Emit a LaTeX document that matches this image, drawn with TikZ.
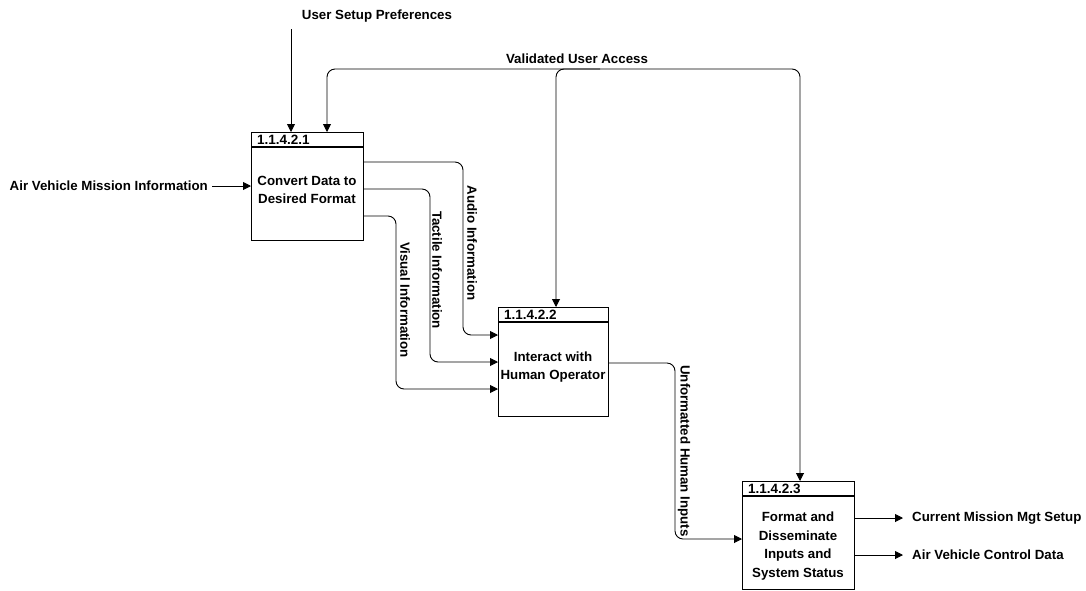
\documentclass[tikz,border=0pt]{standalone}
\usepackage{fontspec}
\setmainfont{Liberation Sans}
\usetikzlibrary{arrows.meta}
\tikzset{
  proc/.style={draw, line width=1.1pt, anchor=north west, inner sep=0pt},
  hdr/.style={line width=1.1pt},
  num/.style={anchor=west, inner sep=0pt, font=\fontsize{13.5}{15}\selectfont\bfseries},
  txt/.style={align=center, inner sep=0pt, font=\fontsize{13.3}{18.5}\selectfont\bfseries},
  lbl/.style={inner sep=0pt, font=\fontsize{13.3}{15}\selectfont\bfseries},
  flow/.style={line width=0.9pt, rounded corners=8pt, -{Triangle[length=8pt,width=8pt]}},
}
\begin{document}
\begin{tikzpicture}[x=1pt,y=-1pt]
\useasboundingbox (0,0) rectangle (1086,590);
\fill[white] (0,0) rectangle (1086,590);

% processes
\node[proc, minimum width=112pt, minimum height=108pt] (b1) at (251,132) {};
\draw[hdr] ([yshift=-15pt]b1.north west) -- ([yshift=-15pt]b1.north east);
\node[num] (n1) at (257,140) {1.1.4.2.1};
\node[txt] (t1) at (307,190) {Convert Data to\\Desired Format};

\node[proc, minimum width=110pt, minimum height=109pt] (b2) at (498,307) {};
\draw[hdr] ([yshift=-15pt]b2.north west) -- ([yshift=-15pt]b2.north east);
\node[num] (n2) at (504,315) {1.1.4.2.2};
\node[txt] (t2) at (553,367) {Interact with\\Human Operator};

\node[proc, minimum width=112pt, minimum height=108pt] (b3) at (742,481) {};
\draw[hdr] ([yshift=-15pt]b3.north west) -- ([yshift=-15pt]b3.north east);
\node[num] (n3) at (748,489) {1.1.4.2.3};
\node[txt] (t3) at (798,546) {Format and\\Disseminate\\Inputs and\\System Status};

% external labels
\node[lbl] (usp) at (377,16) {User Setup Preferences};
\node[lbl] (vua) at (577,59) {Validated User Access};
\node[lbl, anchor=east] (avmi) at (208,186) {Air Vehicle Mission Information};
\node[lbl, anchor=west] (cmms) at (912,518) {Current Mission Mgt Setup};
\node[lbl, anchor=west] (avcd) at (912,555) {Air Vehicle Control Data};

% flow labels (rotated)
\node[lbl, rotate=-90] (la) at (472,243) {Audio Information};
\node[lbl, rotate=-90] (lt) at (437,270) {Tactile Information};
\node[lbl, rotate=-90] (lv) at (405,300) {Visual Information};
\node[lbl, rotate=-90] (lu) at (684,451) {Unformatted Human Inputs};

% connectors
\coordinate (uspS) at (291,29);
\draw[flow] (uspS) -- (b1.north -| uspS);
\coordinate (avmiE) at (212,186);
\draw[flow] (avmiE) -- (b1.west |- avmiE);

\draw[line width=0.9pt, rounded corners=8pt, {Triangle[length=8pt,width=8pt]}-{Triangle[length=8pt,width=8pt]}]
  (b1.north -| 327,0) -- (327,69) -- (800,69) -- (b3.north -| 800,0);
\draw[flow] (600,69) -- (556,69) -- (b2.north -| 556,0);

\draw[flow] (b1.east |- 0,162) -- (463,162) -- (463,335) -- (b2.west |- 0,335);
\draw[flow] (b1.east |- 0,189) -- (430,189) -- (430,362) -- (b2.west |- 0,362);
\draw[flow] (b1.east |- 0,216) -- (396,216) -- (396,389) -- (b2.west |- 0,389);

\draw[flow] (b2.east |- 0,363) -- (675,363) -- (675,539) -- (b3.west |- 0,539);

\draw[flow] (b3.east |- 0,518) -- (903,518);
\draw[flow] (b3.east |- 0,555) -- (903,555);
\end{tikzpicture}
\end{document}
